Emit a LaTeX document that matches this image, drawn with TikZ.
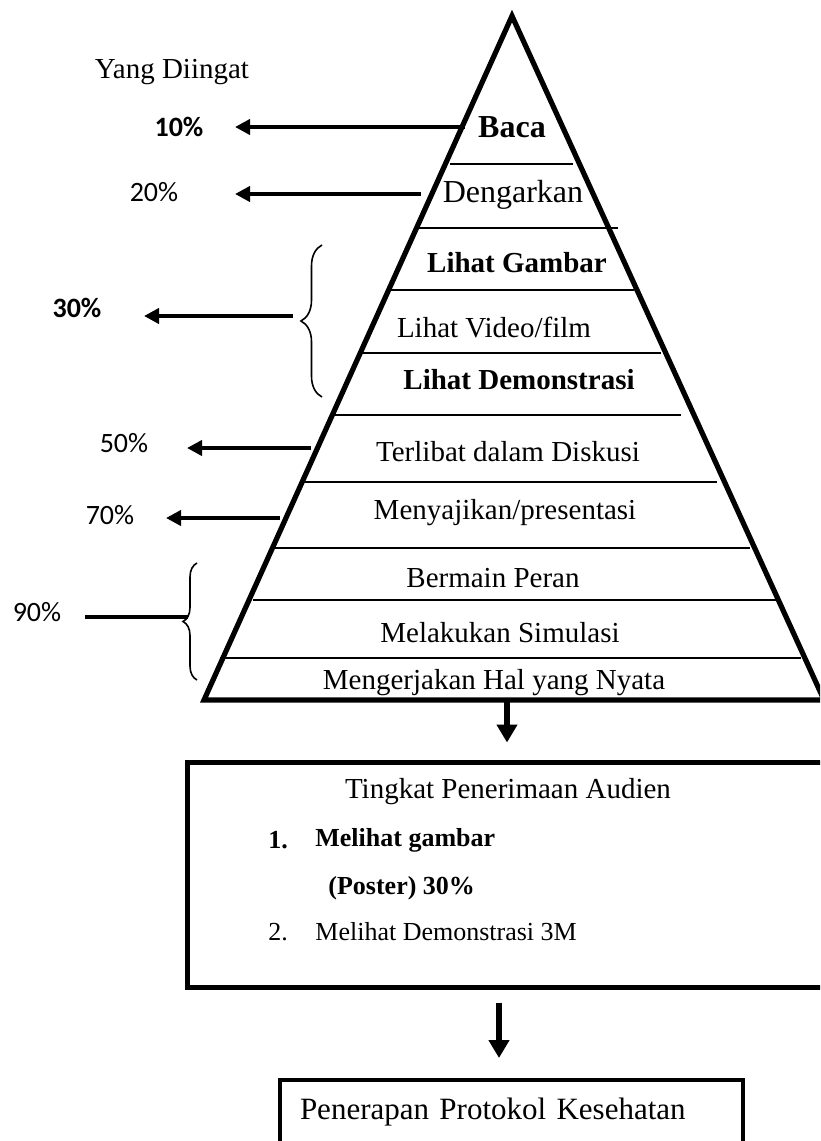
\documentclass[tikz,border=0pt]{standalone}
\usepackage{fontspec}
\setmainfont{Liberation Serif}
\newfontfamily\calibri{Carlito}
\usetikzlibrary{arrows.meta, decorations.pathreplacing}

\begin{document}
\begin{tikzpicture}[x = 0.5pt, y = -0.5pt,
						tier/.style={font=\fontsize{14.5}{17}\selectfont, inner sep=0pt},
						tierbig/.style={font=\fontsize{16}{19}\selectfont, inner sep=0pt},
						percent/.style={font=\calibri\fontsize{14}{17}\selectfont, inner sep=0pt},
						boxtext/.style={font=\fontsize{13}{16}\selectfont, inner sep=0pt, anchor=west},
						toleft/.style={-{Triangle[length=7.5pt, width=7.5pt]}, line width=2pt},
						downarrow/.style={-{Triangle[length=9pt, width=10pt]}, line width=3pt},
						curly/.style={decorate, decoration={brace, amplitude=#1}, line width=0.8pt},
						curly/.default=10pt,
						]
	
		% Page size
		\useasboundingbox (0, 0) rectangle (820, 1141);
		\clip (0, 0) rectangle (820, 1141);
		
		% Pyramid outline
		\coordinate (apex) at (512, 16);
		\coordinate (baseLeft) at (204, 700);
		\coordinate (baseRight) at (824, 700);
		\draw[line width = 2.6pt, line join = miter] (apex) -- (baseLeft) -- (baseRight) -- cycle;
		
		% Level separators
		\draw[line width = 1pt] (450, 164) -- (573, 164);
		\draw[line width = 1pt] (417, 228) -- (618, 228);
		\draw[line width = 1pt] (390, 290) -- (634, 290);
		\draw[line width = 1pt] (361, 353) -- (661, 353);
		\draw[line width = 1pt] (332, 415) -- (681, 415);
		\draw[line width = 1pt] (301, 482) -- (717, 482);
		\draw[line width = 1pt] (271, 548) -- (750, 548);
		\draw[line width = 1pt] (253, 600) -- (776, 600);
		\draw[line width = 1pt] (220, 658) -- (801, 658);
		
		% Level texts
		\node[tierbig] (baca) at (512, 127) {\bfseries Baca};
		\node[tierbig] (dengar) at (513, 195) {Dengarkan};
		\node[tier] (gambar) at (517, 263) {\bfseries Lihat Gambar};
		\node[tier] (video) at (494, 328) {Lihat Video/film};
		\node[tier] (demo) at (519, 380) {\bfseries Lihat Demonstrasi};
		\node[tier] (diskusi) at (508, 452) {Terlibat dalam Diskusi};
		\node[tier] (presentasi) at (505, 513) {Menyajikan/presentasi};
		\node[tier] (peran) at (493, 578) {Bermain Peran};
		\node[tier] (simulasi) at (500, 633) {Melakukan Simulasi};
		\node[tier] (nyata) at (494, 683) {Mengerjakan Hal yang Nyata};
		
		% Remembered share
		\node[tier] (yang) at (172, 72) {Yang Diingat};
		\node[percent] (p10) at (179, 127) {\bfseries 10\%};
		\node[percent] (p20) at (154, 192) {20\%};
		\node[percent] (p30) at (77, 308) {\bfseries 30\%};
		\node[percent] (p50) at (124, 443) {50\%};
		\node[percent] (p70) at (110, 515) {70\%};
		\node[percent] (p90) at (37, 612) {90\%};
		
		% Arrows from the pyramid
		\coordinate (side10) at (465, 127);
		\coordinate (tip10) at (235, 127);
		\draw[toleft] (side10) -- (tip10);
		\coordinate (side20) at (421, 194);
		\coordinate (tip20) at (235, 194);
		\draw[toleft] (side20) -- (tip20);
		\coordinate (side50) at (311, 448);
		\coordinate (tip50) at (187, 448);
		\draw[toleft] (side50) -- (tip50);
		\coordinate (side70) at (280, 518);
		\coordinate (tip70) at (166, 518);
		\draw[toleft] (side70) -- (tip70);
		
		% Braces
		\coordinate (brace30Bottom) at (322, 397);
		\coordinate (brace30Top) at (322, 245);
		\draw[curly = 10.5pt] (brace30Bottom) -- (brace30Top);
		\coordinate (brace30Tip) at (293, 316);
		\coordinate (tip30) at (144, 316);
		\draw[toleft] (brace30Tip) -- (tip30);
		
		\coordinate (brace90Bottom) at (197, 680);
		\coordinate (brace90Top) at (197, 563);
		\draw[curly = 7pt] (brace90Bottom) -- (brace90Top);
		\coordinate (brace90Tip) at (188, 617);
		\coordinate (end90) at (85, 617);
		\draw[line width = 2pt] (brace90Tip) -- (end90);
		
		% Audience box
		\node[draw, line width = 2.5pt, minimum width = 320pt, minimum height = 112.5pt] (audien) at (507, 874.5) {};
		\node[tier] (tingkat) at (508, 792) {Tingkat Penerimaan Audien};
		\node[boxtext] (num1) at (268, 840) {\bfseries 1.};
		\node[boxtext] (item1) at (315, 840) {\bfseries Melihat gambar};
		\node[boxtext] (item1b) at (328, 888) {\bfseries (Poster) 30\%};
		\node[boxtext] (num2) at (268, 932) {2.};
		\node[boxtext] (item2) at (315, 932) {Melihat Demonstrasi 3M};
		
		% Result box
		\node[draw, line width = 2pt, minimum height = 32pt, text width = 211.5pt, inner xsep = 10pt,
			align = left, font = \fontsize{15.5}{18}\selectfont] (protokol) at (511.5, 1112) {Penerapan Protokol Kesehatan};
		
		% Downward arrows
		\coordinate (baseMid) at (507, 700);
		\draw[downarrow, shorten >= 8.5pt] (baseMid) -- (audien.north);
		\draw[downarrow, shorten <= 6.5pt, shorten >= 10pt] ([xshift = -4pt]audien.south) -- ([xshift = -6.25pt]protokol.north);
		
	\end{tikzpicture}
\end{document}
